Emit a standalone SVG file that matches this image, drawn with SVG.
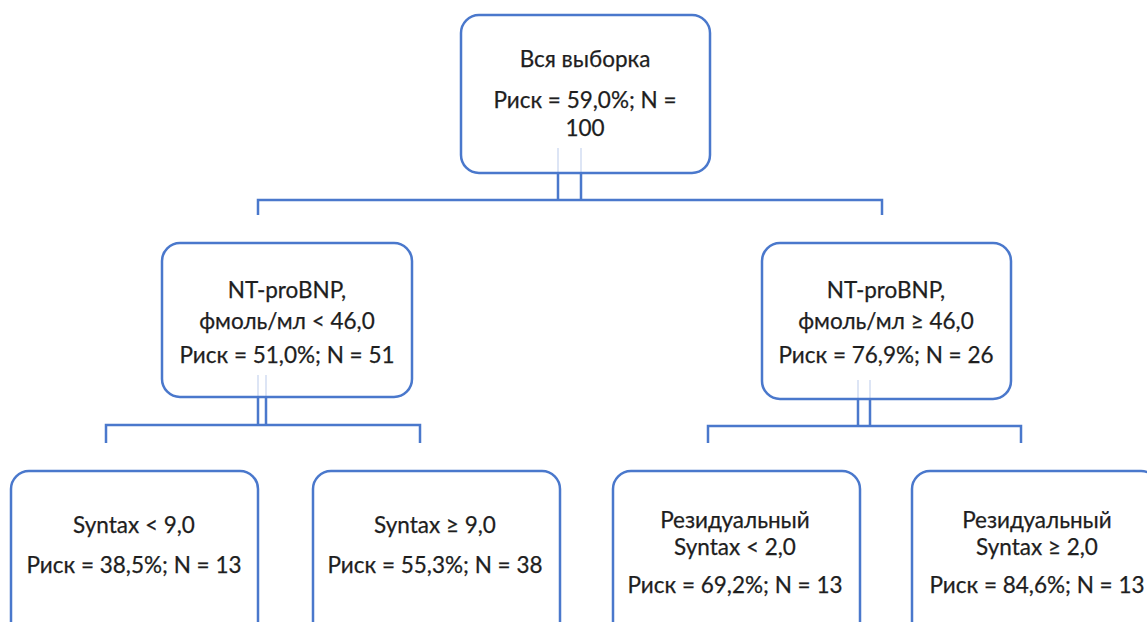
<svg xmlns="http://www.w3.org/2000/svg" width="1147" height="622" viewBox="0 0 1147 622">
<style>
.box{fill:#fff;stroke:#4a78cc;stroke-width:2.5}
.ln{fill:none;stroke:#4a78cc;stroke-width:2.5}
.fl{fill:none;stroke:#4a78cc;stroke-width:1.5;opacity:0.25}
text{font-family:"Lato","Open Sans","Liberation Sans",sans-serif;font-size:22.5px;fill:#1e1e1e;text-anchor:middle;stroke:#1e1e1e;stroke-width:0.25}
</style>
<rect width="1147" height="622" fill="#fff"/>
<g id="n-root">
<rect class="box" x="461" y="15" width="249" height="158" rx="18"/>
<text x="585" y="67">Вся выборка</text>
<text x="585" y="108">Риск = 59,0%; N =</text>
<text x="585" y="136">100</text>
</g>
<g id="n-left">
<rect class="box" x="162" y="243" width="250" height="154" rx="18"/>
<text x="287" y="298">NT-proBNP,</text>
<text x="287" y="329">фмоль/мл &lt; 46,0</text>
<text x="287" y="363">Риск = 51,0%; N = 51</text>
</g>
<g id="n-right">
<rect class="box" x="762" y="243" width="249" height="156" rx="18"/>
<text x="886" y="298">NT-proBNP,</text>
<text x="886" y="329">фмоль/мл ≥ 46,0</text>
<text x="886" y="363">Риск = 76,9%; N = 26</text>
</g>
<g id="n-ll">
<rect class="box" x="11" y="471" width="247" height="180" rx="18"/>
<text x="134" y="533">Syntax &lt; 9,0</text>
<text x="134" y="573">Риск = 38,5%; N = 13</text>
</g>
<g id="n-lr">
<rect class="box" x="313" y="471" width="247" height="180" rx="18"/>
<text x="435" y="533">Syntax ≥ 9,0</text>
<text x="435" y="573">Риск = 55,3%; N = 38</text>
</g>
<g id="n-rl">
<rect class="box" x="613" y="471" width="247" height="180" rx="18"/>
<text x="735" y="528">Резидуальный</text>
<text x="735" y="555">Syntax &lt; 2,0</text>
<text x="735" y="593">Риск = 69,2%; N = 13</text>
</g>
<g id="n-rr">
<rect class="box" x="912" y="471" width="247" height="180" rx="18"/>
<text x="1037" y="528">Резидуальный</text>
<text x="1037" y="555">Syntax ≥ 2,0</text>
<text x="1037" y="593">Риск = 84,6%; N = 13</text>
</g>
<g id="connectors">
<path class="fl" d="M558 148V173M581 148V173"/>
<path class="ln" d="M558 173V200M581 173V200"/>
<path class="ln" d="M258 215V200H882V215"/>
<path class="fl" d="M258 375V397M266 375V397"/>
<path class="ln" d="M258 397V425M266 397V425"/>
<path class="ln" d="M106 443V425H420V443"/>
<path class="fl" d="M858 380V400M870 380V400"/>
<path class="ln" d="M858 400V426M870 400V426"/>
<path class="ln" d="M708 443V426H1021V443"/>
</g>
</svg>
